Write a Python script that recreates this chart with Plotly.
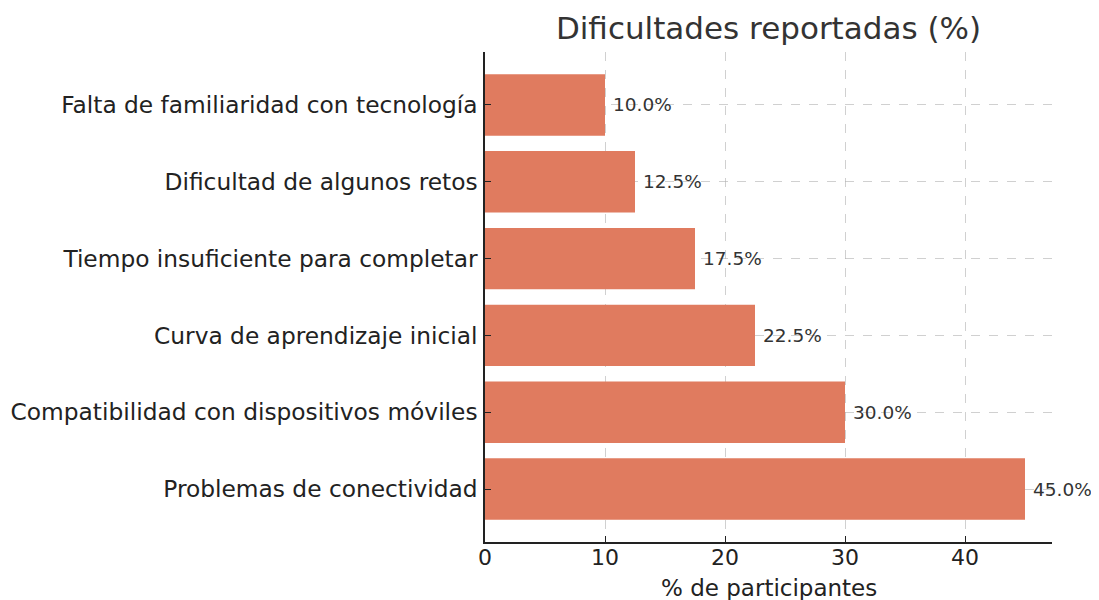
import plotly.graph_objects as go

# Data, bottom to top as drawn
categories = [
    "Problemas de conectividad",
    "Compatibilidad con dispositivos móviles",
    "Curva de aprendizaje inicial",
    "Tiempo insuficiente para completar",
    "Dificultad de algunos retos",
    "Falta de familiaridad con tecnología",
]
percentages = [45.0, 30.0, 22.5, 17.5, 12.5, 10.0]
x_ticks = [0, 10, 20, 30, 40]

BAR_COLOR = "#E07B5F"
FONT = "DejaVu Sans"

# page body adds an 8px offset, so the figure is a bit smaller
W, H = 1091, 592
L, R, T, B = 477, 47, 44, 58

fig = go.Figure()
fig.add_trace(
    go.Bar(
        x=percentages,
        y=categories,
        orientation="h",
        width=0.8,
        marker=dict(color=BAR_COLOR, line=dict(width=0)),
        hoverinfo="x+y",
    )
)

for cat, val in zip(categories, percentages):
    fig.add_annotation(
        x=val,
        y=cat,
        text=f"{val:.1f}%",
        showarrow=False,
        xanchor="left",
        yanchor="middle",
        xshift=6,
        font=dict(family=FONT, size=18.5, color="#333333"),
    )

# x-axis title placed by hand
fig.add_annotation(
    x=0.5,
    y=0,
    xref="paper",
    yref="paper",
    yshift=-46,
    text="% de participantes",
    showarrow=False,
    xanchor="center",
    yanchor="middle",
    font=dict(family=FONT, size=23, color="#222222"),
)

fig.update_layout(
    width=W,
    height=H,
    paper_bgcolor="white",
    plot_bgcolor="white",
    showlegend=False,
    margin=dict(l=L, r=R, t=T, b=B, autoexpand=False),
    title=dict(
        text="Dificultades reportadas (%)",
        x=(L + (W - R)) / 2 / W,
        xanchor="center",
        y=1 - 20 / H,
        yanchor="middle",
        font=dict(family=FONT, size=31, color="#333333"),
    ),
    font=dict(family=FONT, color="#222222"),
)

fig.update_xaxes(
    range=[0, 47.25],
    tickvals=x_ticks,
    ticks="inside",
    ticklen=6,
    tickcolor="#222222",
    tickfont=dict(family=FONT, size=22, color="#222222"),
    showline=True,
    linecolor="#222222",
    linewidth=1.5,
    showgrid=True,
    gridcolor="rgba(176,176,176,0.6)",
    griddash="dash",
    gridwidth=1,
    zeroline=False,
    layer="above traces",
    automargin=False,
    ticklabelstandoff=-5,
)
fig.update_yaxes(
    range=[-0.69, 5.69],
    ticks="inside",
    ticklen=6,
    tickcolor="#222222",
    tickfont=dict(family=FONT, size=23.3, color="#222222"),
    showline=True,
    linecolor="#222222",
    linewidth=1.5,
    showgrid=True,
    gridcolor="rgba(176,176,176,0.6)",
    griddash="dash",
    gridwidth=1,
    zeroline=False,
    layer="above traces",
    automargin=False,
    ticklabelstandoff=1,
)

fig.write_html("out.html")
